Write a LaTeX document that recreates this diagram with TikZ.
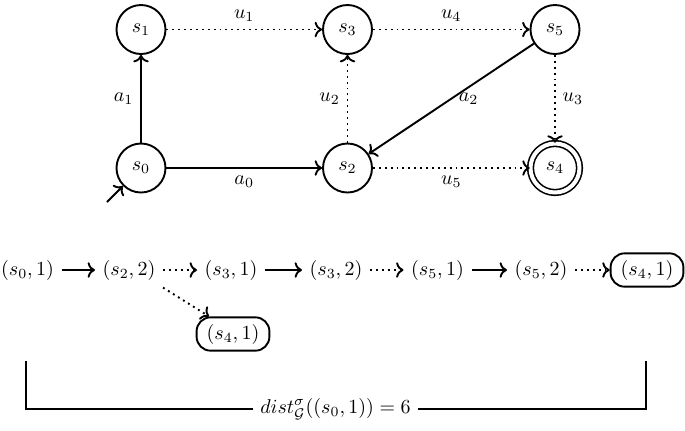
\documentclass[tikz,border=0pt]{standalone}
\usetikzlibrary{arrows.meta,calc}
\begin{document}
\begin{tikzpicture}[x=0.5pt,y=-0.5pt,
  every path/.style={line width=0.95pt},
  st/.style={draw,circle,line width=0.95pt,minimum size=24.5pt,inner sep=0pt},
  acc/.style={st,double,double distance=2pt,line width=0.8pt},
  cfg/.style={inner sep=3.33pt},
  tgt/.style={draw,line width=0.95pt,rounded corners=7pt,minimum height=14pt,inner xsep=5pt},
  ctrl/.style={->},
  unc/.style={->,dotted},
  lbl/.style={inner sep=3.33pt}]
\useasboundingbox (0,0) rectangle (685,430);
% automaton
\node[st] (s1) at (141,29.5) {$s_1$};
\node[st] (s3) at (347.5,29.5) {$s_3$};
\node[st] (s5) at (555,29.5) {$s_5$};
\node[st] (s0) at (141,168) {$s_0$};
\node[st] (s2) at (347.5,168) {$s_2$};
\node[acc] (s4) at (555,168) {$s_4$};
\coordinate (init) at (107,202);
\draw[ctrl] (init) -- (s0.225);
\draw[ctrl] (s0) -- node[lbl,left] {$a_1$} (s1);
\draw[ctrl] (s0) -- node[lbl,below] {$a_0$} (s2);
\draw[unc] (s1) -- node[lbl,above] {$u_1$} (s3);
\draw[unc] (s2) -- node[lbl,left] {$u_2$} (s3);
\draw[unc] (s3) -- node[lbl,above] {$u_4$} (s5);
\draw[ctrl] (s5) -- node[lbl,right] {$a_2$} (s2);
\draw[unc] (s5) -- node[lbl,right] {$u_3$} (s4);
\draw[unc] (s2) -- node[lbl,below] {$u_5$} (s4);
% run
\node[cfg] (c0) at (27.5,270) {$(s_0,1)$};
\node[cfg] (c1) at (129,270) {$(s_2,2)$};
\node[cfg] (c2) at (231,270) {$(s_3,1)$};
\node[cfg] (c3) at (336,270) {$(s_3,2)$};
\node[cfg] (c4) at (437.5,270) {$(s_5,1)$};
\node[cfg] (c5) at (541,270) {$(s_5,2)$};
\node[tgt] (c6) at (647,270) {$(s_4,1)$};
\node[tgt] (c7) at (233,334) {$(s_4,1)$};
\draw[ctrl] (c0) -- (c1);
\draw[unc] (c1) -- (c2);
\draw[ctrl] (c2) -- (c3);
\draw[unc] (c3) -- (c4);
\draw[ctrl] (c4) -- (c5);
\draw[unc] (c5) -- (c6);
\draw[unc] (c1.south east) -- ([xshift=-12pt]c7.north);
% bracket
\coordinate (bl) at (26,361);
\coordinate (bl2) at (26,409);
\coordinate (br) at (646,361);
\coordinate (br2) at (646,409);
\node[lbl] (dist) at (335.5,409) {$dist^{\sigma}_{\mathcal{G}}((s_0,1)) = 6$};
\draw (bl) -- (bl2) -- (dist.west);
\draw (dist.east) -- (br2) -- (br);
\end{tikzpicture}
\end{document}
